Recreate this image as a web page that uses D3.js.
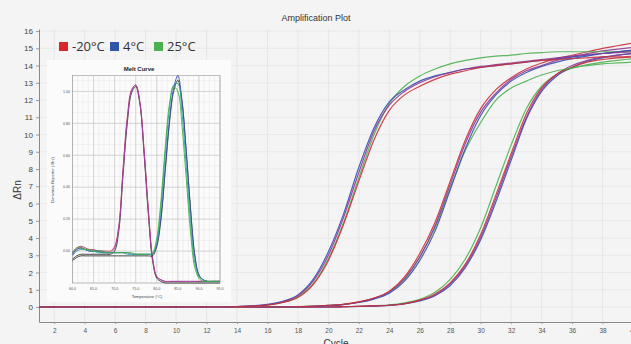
<!DOCTYPE html>
<html>
<head>
<meta charset="utf-8">
<script src="https://cdn.jsdelivr.net/npm/d3@7"></script>
<style>
  html, body { margin: 0; padding: 0; background: #f4f4f4; }
  svg { display: block; font-family: "Liberation Sans", Arial, sans-serif; }
</style>
</head>
<body>
<svg id="chart" width="631" height="344"></svg>
<script>
// ---- amplification data (delta Rn per cycle, cycles 1..40) ----
var cycles = d3.range(1, 41);
var cycleTicks = [2,4,6,8,10,12,14,16,18,20,22,24,26,28,30,32,34,36,38,40];
var rnTicks = [0,1,2,3,4,5,6,7,8,9,10,11,12,13,14,15,16];

var g1Red    = [0,0,0,0,0,0,0,0,0,0,0,0,0, 0.02,0.05,0.11,0.26,0.55,1.3,2.7,4.8,7.3,9.7,11.4,12.3,12.8,13.2,13.5,13.7,13.9,14.0,14.1,14.2,14.3,14.35,14.4,14.45,14.5,14.5,14.55];
var g1Blue   = [0,0,0,0,0,0,0,0,0,0,0,0,0, 0.03,0.07,0.15,0.33,0.7,1.6,3.2,5.4,8.1,10.4,11.9,12.6,13.1,13.4,13.6,13.8,13.9,14.0,14.1,14.2,14.3,14.4,14.5,14.6,14.7,14.8,14.9];
var g1Green  = [0,0,0,0,0,0,0,0,0,0,0,0,0, 0.02,0.05,0.12,0.27,0.58,1.35,2.8,4.9,7.5,10.0,11.8,12.8,13.4,13.8,14.1,14.3,14.45,14.55,14.6,14.7,14.75,14.8,14.8,14.8,14.8,14.8,14.8];
var g1Purple = [0,0,0,0,0,0,0,0,0,0,0,0,0, 0.02,0.06,0.13,0.3,0.65,1.5,3.0,5.2,7.8,10.2,11.7,12.5,13.0,13.35,13.6,13.8,13.95,14.05,14.15,14.25,14.35,14.45,14.55,14.65,14.7,14.75,14.8];

var g2Red    = [0,0,0,0,0,0,0,0,0,0,0,0,0,0,0,0,0, 0.02,0.05,0.1,0.16,0.3,0.52,0.92,1.75,3.1,4.9,7.3,9.7,11.5,12.6,13.3,13.8,14.15,14.4,14.6,14.8,15.0,15.15,15.3];
var g2Purple = [0,0,0,0,0,0,0,0,0,0,0,0,0,0,0,0,0, 0.02,0.04,0.09,0.15,0.28,0.5,0.88,1.65,2.9,4.7,7.1,9.5,11.3,12.4,13.2,13.7,14.0,14.3,14.5,14.7,14.85,14.95,15.05];
var g2Blue   = [0,0,0,0,0,0,0,0,0,0,0,0,0,0,0,0,0, 0.02,0.04,0.08,0.14,0.26,0.46,0.8,1.5,2.7,4.4,6.8,9.2,11.1,12.3,13.1,13.6,13.95,14.2,14.4,14.55,14.7,14.8,14.9];
var g2Green  = [0,0,0,0,0,0,0,0,0,0,0,0,0,0,0,0,0, 0.02,0.05,0.09,0.15,0.29,0.5,0.85,1.6,2.9,4.6,6.9,9.1,10.7,12.0,12.7,13.1,13.45,13.7,13.85,14.05,14.2,14.3,14.4];

var g3Red    = [0,0,0,0,0,0,0,0,0,0,0,0,0,0,0,0,0,0,0,0, 0.02,0.04,0.06,0.1,0.2,0.4,0.75,1.4,2.5,4.2,6.5,8.9,11.2,12.7,13.5,13.9,14.2,14.35,14.45,14.5];
var g3Green  = [0,0,0,0,0,0,0,0,0,0,0,0,0,0,0,0,0,0,0,0, 0.02,0.04,0.07,0.12,0.24,0.45,0.85,1.6,2.8,4.6,7.0,9.4,11.5,12.8,13.5,13.85,14.0,14.1,14.15,14.2];
var g3Blue   = [0,0,0,0,0,0,0,0,0,0,0,0,0,0,0,0,0,0,0,0, 0.02,0.03,0.05,0.09,0.18,0.35,0.65,1.25,2.3,3.9,6.1,8.5,10.9,12.5,13.4,13.9,14.25,14.45,14.6,14.7];
var g3Purple = [0,0,0,0,0,0,0,0,0,0,0,0,0,0,0,0,0,0,0,0, 0.02,0.04,0.06,0.1,0.19,0.38,0.7,1.35,2.4,4.05,6.3,8.7,11.0,12.6,13.5,14.0,14.3,14.5,14.6,14.7];

// ---- melt curve data (derivative reporter, 60..95 C) ----
var temps = d3.range(60, 96);
var tempTicks = [60,65,70,75,80,85,90,95];
var derivTicks = [0,0.2,0.4,0.6,0.8,1.0];

var meltAPurple = [-0.02,0.01,0.02,0.01,0,0,0,0,-0.01,-0.01, 0.02,0.15,0.5,0.82,1.0,1.04,0.93,0.62,0.25,-0.05, -0.16,-0.18,-0.19,-0.19,-0.19,-0.19,-0.19,-0.19,-0.19,-0.19, -0.19,-0.19,-0.19,-0.19,-0.19,-0.19];
var meltABlack  = [-0.05,-0.03,-0.02,-0.02,-0.02,-0.02,-0.02,-0.02,-0.02,-0.02, 0.0,0.13,0.48,0.8,0.99,1.03,0.92,0.6,0.23,-0.06, -0.17,-0.19,-0.2,-0.2,-0.2,-0.2,-0.2,-0.2,-0.2,-0.2, -0.2,-0.2,-0.2,-0.2,-0.2,-0.2];
var meltARed    = [-0.01,0.02,0.03,0.02,0.01,0.01,0,0,0,0, 0.03,0.16,0.52,0.84,1.01,1.04,0.93,0.63,0.26,-0.04, -0.16,-0.18,-0.19,-0.19,-0.19,-0.19,-0.19,-0.19,-0.19,-0.19, -0.19,-0.19,-0.19,-0.19,-0.19,-0.19];
var meltBBlue   = [-0.02,0.01,0.02,0.01,0,0,0,-0.01,-0.01,-0.01, -0.01,-0.01,-0.01,-0.01,-0.02,-0.02,-0.02,-0.02,-0.02,-0.02, 0.04,0.22,0.52,0.82,1.02,1.1,0.94,0.62,0.26,-0.03, -0.15,-0.18,-0.19,-0.19,-0.19,-0.19];
var meltBGreen  = [-0.01,0.02,0.02,0.01,0.01,0,0,0,-0.01,-0.01, -0.01,-0.01,-0.01,-0.01,-0.01,-0.02,-0.02,-0.02,-0.02,-0.01, 0.08,0.32,0.65,0.92,1.03,1.0,0.78,0.45,0.12,-0.1, -0.17,-0.19,-0.19,-0.19,-0.19,-0.19];
var meltBTeal   = [-0.03,0.0,0.01,0.01,0,0,-0.01,-0.01,-0.01,-0.01, -0.01,-0.01,-0.01,-0.02,-0.02,-0.02,-0.02,-0.02,-0.02,-0.02, 0.06,0.28,0.6,0.89,1.04,1.05,0.86,0.53,0.18,-0.07, -0.16,-0.18,-0.19,-0.19,-0.19,-0.19];
var meltBBlack  = [-0.06,-0.04,-0.03,-0.03,-0.03,-0.03,-0.03,-0.03,-0.03,-0.03, -0.03,-0.03,-0.03,-0.03,-0.03,-0.03,-0.03,-0.03,-0.03,-0.03, 0.03,0.2,0.5,0.8,1.0,1.07,0.93,0.62,0.27,-0.02, -0.15,-0.18,-0.19,-0.19,-0.19,-0.19];

var legendLabels = ["-20°C", "4°C", "25°C"];
var legendColors = ["#d8262b", "#2f55a6", "#4cb050"];

// drawing order: last one ends up on top (baseline looks reddish)
var ampSeries = [
  [g3Green, "#4cb050"], [g3Blue, "#3550b0"], [g3Purple, "#8e3a96"], [g3Red, "#c9303a"],
  [g2Green, "#4cb050"], [g2Blue, "#3550b0"], [g2Purple, "#8e3a96"], [g2Red, "#c9303a"],
  [g1Green, "#4cb050"], [g1Blue, "#3550b0"], [g1Purple, "#8e3a96"], [g1Red, "#c9303a"]
];
var meltSeries = [
  [meltABlack, "#333"], [meltARed, "#c0305a"], [meltAPurple, "#9a44a6"],
  [meltBBlack, "#333"], [meltBBlue, "#3d4fb0"], [meltBTeal, "#2a9f98"], [meltBGreen, "#3cb043"]
];

var svg = d3.select("#chart");

var x = d3.scaleLinear().domain([1, 40]).range([39, 633]);
var y = d3.scaleLinear().domain([-0.87, 16.12]).range([322, 29]);

// grid
svg.append("g").selectAll("line").data(cycleTicks).enter().append("line")
  .attr("x1", function (d) { return x(d); }).attr("x2", function (d) { return x(d); })
  .attr("y1", y.range()[1]).attr("y2", y.range()[0])
  .attr("stroke", "#e2e2e2").attr("stroke-width", 0.8);
svg.append("g").selectAll("line").data(rnTicks).enter().append("line")
  .attr("x1", x.range()[0]).attr("x2", 631)
  .attr("y1", function (d) { return y(d); }).attr("y2", function (d) { return y(d); })
  .attr("stroke", "#e6e6e6").attr("stroke-width", 0.8);

// axes
var yAxis = svg.append("g").attr("transform", "translate(" + x.range()[0] + ",0)")
  .call(d3.axisLeft(y).tickValues(rnTicks).tickSize(3).tickSizeOuter(0));
yAxis.selectAll("text").attr("font-size", 8).attr("fill", "#444");
var xAxis = svg.append("g").attr("transform", "translate(0," + y.range()[0] + ")")
  .call(d3.axisBottom(x).tickValues(cycleTicks).tickSize(2).tickSizeOuter(0));
xAxis.selectAll("text").attr("font-size", 6.5).attr("fill", "#555").attr("dy", "0.9em");
svg.selectAll(".domain").attr("stroke", "#888");
svg.selectAll(".tick line").attr("stroke", "#999");

svg.append("text").attr("x", 316).attr("y", 21).attr("text-anchor", "middle")
  .attr("font-size", 9).attr("fill", "#333").text("Amplification Plot");
svg.append("text").attr("transform", "translate(21,190) rotate(-90)").attr("text-anchor", "middle")
  .attr("font-size", 10).attr("fill", "#333").text("ΔRn");
svg.append("text").attr("x", 336).attr("y", 347).attr("text-anchor", "middle")
  .attr("font-size", 10).attr("fill", "#333").text("Cycle");

// amplification curves
var ampLine = d3.line()
  .x(function (d, i) { return x(cycles[i]); })
  .y(function (d) { return y(d); })
  .curve(d3.curveMonotoneX);

svg.append("g").selectAll("path").data(ampSeries).enter().append("path")
  .attr("d", function (s) { return ampLine(s[0]); })
  .attr("fill", "none").attr("stroke", function (s) { return s[1]; })
  .attr("stroke-width", 1.2).attr("stroke-opacity", 0.9);

// legend
var legend = svg.append("g").selectAll("g").data(legendLabels).enter().append("g")
  .attr("transform", function (d, i) { return "translate(" + [59, 110, 154][i] + ",42)"; });
legend.append("rect").attr("width", 9).attr("height", 9)
  .attr("fill", function (d, i) { return legendColors[i]; });
legend.append("text").attr("x", 13).attr("y", 9).attr("font-size", 13)
  .attr("font-family", "'Open Sans', sans-serif").attr("fill", "#333")
  .text(function (d) { return d; });

// ---- melt curve inset ----
var mx = d3.scaleLinear().domain([60, 95]).range([72.5, 220]);
var my = d3.scaleLinear().domain([-0.2, 1.1]).range([283, 75.5]);

var inset = svg.append("g");
inset.append("rect").attr("x", 47).attr("y", 60).attr("width", 184).attr("height", 242)
  .attr("fill", "#fbfbfb");

var minorT = d3.range(60, 95.1, 1.25);
var minorD = d3.range(-0.2, 1.101, 0.0667);
inset.append("g").selectAll("line").data(minorT).enter().append("line")
  .attr("x1", function (d) { return mx(d); }).attr("x2", function (d) { return mx(d); })
  .attr("y1", my.range()[1]).attr("y2", my.range()[0])
  .attr("stroke", "#e4e4e4").attr("stroke-width", 0.5);
inset.append("g").selectAll("line").data(minorD).enter().append("line")
  .attr("x1", mx.range()[0]).attr("x2", mx.range()[1])
  .attr("y1", function (d) { return my(d); }).attr("y2", function (d) { return my(d); })
  .attr("stroke", "#e4e4e4").attr("stroke-width", 0.5);
inset.append("g").selectAll("line").data(tempTicks).enter().append("line")
  .attr("x1", function (d) { return mx(d); }).attr("x2", function (d) { return mx(d); })
  .attr("y1", my.range()[1]).attr("y2", my.range()[0])
  .attr("stroke", "#c4c4c4").attr("stroke-width", 0.6);
inset.append("g").selectAll("line").data(derivTicks).enter().append("line")
  .attr("x1", mx.range()[0]).attr("x2", mx.range()[1])
  .attr("y1", function (d) { return my(d); }).attr("y2", function (d) { return my(d); })
  .attr("stroke", "#c4c4c4").attr("stroke-width", 0.6);
inset.append("rect").attr("x", mx.range()[0]).attr("y", my.range()[1])
  .attr("width", mx.range()[1] - mx.range()[0]).attr("height", my.range()[0] - my.range()[1])
  .attr("fill", "none").attr("stroke", "#999").attr("stroke-width", 0.6);

inset.append("g").selectAll("text").data(tempTicks).enter().append("text")
  .attr("x", function (d) { return mx(d); }).attr("y", 290).attr("text-anchor", "middle")
  .attr("font-size", 3.6).attr("fill", "#555").text(function (d) { return d.toFixed(1); });
inset.append("g").selectAll("text").data(derivTicks).enter().append("text")
  .attr("x", 70).attr("y", function (d) { return my(d) + 1.2; }).attr("text-anchor", "end")
  .attr("font-size", 3.6).attr("fill", "#555").text(function (d) { return d.toFixed(2); });

inset.append("text").attr("x", 139).attr("y", 71).attr("text-anchor", "middle")
  .attr("font-size", 6).attr("font-weight", "bold").attr("fill", "#222").text("Melt Curve");
inset.append("text").attr("x", 147).attr("y", 298).attr("text-anchor", "middle")
  .attr("font-size", 4).attr("fill", "#444").text("Temperature (°C)");
inset.append("text").attr("transform", "translate(54,180) rotate(-90)").attr("text-anchor", "middle")
  .attr("font-size", 4).attr("fill", "#444").text("Derivative Reporter (-Rn')");

var meltLine = d3.line()
  .x(function (d, i) { return mx(temps[i]); })
  .y(function (d) { return my(d); })
  .curve(d3.curveCatmullRom);

inset.append("g").selectAll("path").data(meltSeries).enter().append("path")
  .attr("d", function (s) { return meltLine(s[0]); })
  .attr("fill", "none").attr("stroke", function (s) { return s[1]; })
  .attr("stroke-width", 0.9);
</script>
</body>
</html>
